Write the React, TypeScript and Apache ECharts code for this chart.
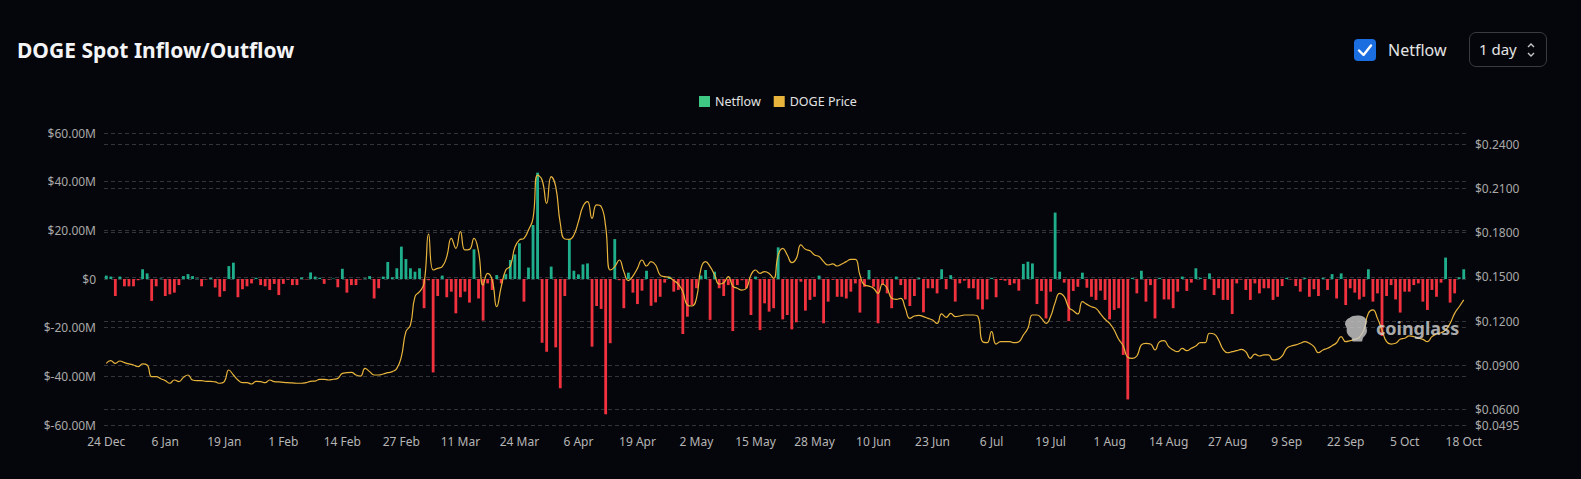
import React, { useEffect, useRef } from "react";
import * as echarts from "echarts";

const START_DATE = Date.UTC(2023, 11, 24);
const DAY_COUNT = 300;
const MONTHS = ["Jan", "Feb", "Mar", "Apr", "May", "Jun", "Jul", "Aug", "Sep", "Oct", "Nov", "Dec"];
const dates: string[] = Array.from({ length: DAY_COUNT }, (_, i) => {
  const d = new Date(START_DATE + i * 86400000);
  return `${d.getUTCDate()} ${MONTHS[d.getUTCMonth()]}`;
});

// Netflow in millions of USD, one per day
const netflowDecJan = [
  1.4, 1, -7, 1, -3, -3, -3, -0.5, 4, 2.3, -9, -3, 0.2, -7, -6.3, -5.6, -2.5, 1.2, 2, 1.2,
  0.2, -3, -0.2, 0.5, -3.5, -7.3, -5, 5.3, 6.7, -7.5, -4.2, -3, -1.8, 0.5, -2.5, -3, -4.5, -2, -6.6,
];
const netflowFebMar = [
  -2, -0.3, -2.5, -2.5, 0.6, -0.2, 2.7, 1, 0.5, -2, -0.2, 0.2, -3.4, 4.2, -5.6, -2.5, -2.5, -0.2, 0.3, 1.2,
  -8, -3.8, 1, 7, 0.7, 4.4, 13.3, 8.2, 4.4, 3, 4.4, -12, -0.5, -38.4, -7, 1.4, -7.5, -5.2, -14.1, -7.5,
  -5.2, -9.7, 12.2, -8, -17.1, -1.8, -4.5, 1.6, -1.8, 2, 7.8, 10.1, 14.7, -9.3, 4.7, 22.2, 43.7, -26.2, -29.9, 5.1,
];
const netflowAprMay = [
  -28.1, -44.9, -7, 16.3, 3.4, 1.9, 6, 6.4, -27.8, -11.1, -12.3, -55.6, -26.4, 16.4, -0.5, -12, 2.6, -5.6, -10.3, -4.8,
  3.4, -11, -9.6, -7.3, -1.5, 1, -5.2, -4.5, -22.6, -15.5, -10.7, -3.8, 1.4, 3.7, -16.8, 3, -3.8, -7, -2.5, -21.4,
  -2.5, -0.5, -3.8, -14.8, 1, -21, -10, -13.4, -12, 13, -16.6, -14.8, -20.7, -17.8, -1.1, -13, -8.6, -7.3, 1.4, -18.2,
  -9.3,
];
const netflowJunJul = [
  -0.3, -7.3, -7.3, -8, -5.2, -1.8, -13.8, -3.2, 3.7, -3.2, -18.2, -2.5, -5.9, -12, 1, -2.5, -8.4, -11.1, -7, 0.5,
  -13.7, -3.8, -3.8, -5.9, 4, -4.2, 1.6, -9.3, -1.8, -0.7, -3.8, -3.8, -8.4, -12.5, -8.4, 0.5, -7.5, -0.4, -0.7, -2.5,
  -1.8, -4.8, 6.2, 7.1, 6.4, -10.3, -4.9, -16.2, -5.2, 27.3, 3, -1.5, -17.3, -4.9, -3.2, 2.6, -3.6, -7.3, -8.6, -4.8,
  -8.6,
];
const netflowAugOct = [
  -16.6, -12.7, -12, -31.2, -49.5, 0.5, -5.9, 3.4, -9.3, -2.5, -16.2, 0.5, -8.4, -8.4, -12, -5.2, 1, -4.9, -1.5, 4.4,
  0.5, -4.5, 2.3, -6.6, -3.8, -8.6, -8.6, -14.4, -1.8, -0.2, -4.5, -8.6, -1.8, -5.9, -3.8, -3.8, -8.6, -7.3, -2.9, 0.5,
  -0.2, -2.9, -5.2, 0.5, -7.3, -4.2, -7, 0.5, -4.5, 2, -8, 2.3, -10.7, -3.8, -5.6, -8.4, -7.3, 4, -9.3, -5.9,
  -23.4, -7, -2.5, -8.4, -13.8, -5.2, -5.2, -2.5, -1.8, -9.3, -12.7, -4.5, -7.3, -1.5, 8.8, -9.7, -5.9, 0.7, 4,
];
const netflow = [...netflowDecJan, ...netflowFebMar, ...netflowAprMay, ...netflowJunJul, ...netflowAugOct];

// DOGE price in USD, one per day
const priceDecFeb = [
  0.0913, 0.0931, 0.0913, 0.0929, 0.0918, 0.0909, 0.0902, 0.0891, 0.0909, 0.0902,
  0.0823, 0.0823, 0.0809, 0.0796, 0.0778, 0.08, 0.0789, 0.0818, 0.0834, 0.08,
  0.0796, 0.0796, 0.0791, 0.0791, 0.0787, 0.0778, 0.0789, 0.0868, 0.0834, 0.08,
  0.0782, 0.0782, 0.0773, 0.0791, 0.0789, 0.0782, 0.08, 0.0789, 0.0787, 0.0784,
  0.0782, 0.078, 0.0778, 0.0778, 0.0782, 0.0791, 0.0793, 0.0805, 0.0805, 0.08,
  0.0805, 0.0811, 0.0845, 0.085, 0.0852, 0.0834, 0.0827, 0.0879, 0.0857, 0.0834,
  0.0834, 0.0841, 0.085, 0.0857, 0.0879, 0.0958, 0.1128, 0.1173, 0.1365, 0.1399,
];
const priceMarMay = [
  0.1456, 0.179, 0.1546, 0.1557, 0.1569, 0.1637, 0.1761, 0.1693, 0.1806, 0.1682,
  0.1686, 0.1761, 0.167, 0.1444, 0.1523, 0.1478, 0.1297, 0.1433, 0.1546, 0.1573,
  0.17, 0.175, 0.1761, 0.1817, 0.1896, 0.219, 0.2156, 0.1998, 0.2179, 0.2111,
  0.1863, 0.1756, 0.1754, 0.1783, 0.1874, 0.1976, 0.2009, 0.1896, 0.1987, 0.1976,
  0.184, 0.1546, 0.1569, 0.1614, 0.1535, 0.1474, 0.1505, 0.1557, 0.1614, 0.1573,
  0.1603, 0.158, 0.1512, 0.1501, 0.1496, 0.1474, 0.1451, 0.1399, 0.1309, 0.1302,
  0.1354, 0.1557, 0.1603, 0.1569, 0.1512, 0.1451, 0.146, 0.1501, 0.1437, 0.1422,
  0.141, 0.1422, 0.1512, 0.1546, 0.1523, 0.1535,
];
const priceMayJul = [
  0.1523, 0.1489, 0.1648, 0.1693, 0.1648, 0.1596, 0.1625, 0.1716, 0.1686,
  0.1677, 0.1648, 0.1637, 0.1603, 0.158, 0.1587, 0.1573, 0.1587, 0.1603, 0.1618,
  0.1618, 0.1512, 0.1444, 0.1437, 0.1422, 0.1388, 0.1451, 0.1422, 0.1354, 0.1347,
  0.1354, 0.1286, 0.1218, 0.1234, 0.1239, 0.123, 0.1218, 0.1207, 0.1184, 0.1248,
  0.1225, 0.1252, 0.123, 0.1234, 0.1241, 0.1241, 0.1241, 0.123, 0.106, 0.1053,
  0.1128, 0.1044, 0.106, 0.106, 0.106, 0.1053, 0.106, 0.1105, 0.1151, 0.1241,
  0.1241, 0.1218, 0.1184, 0.123, 0.1325, 0.1388, 0.1365, 0.1293, 0.127, 0.1248,
  0.1331, 0.1313, 0.1297, 0.1286, 0.1248, 0.1212,
];
const priceJulOct = [
  0.1184, 0.1139, 0.1076, 0.1031, 0.0954, 0.0947, 0.0963, 0.1038, 0.1049, 0.1044,
  0.1004, 0.106, 0.1067, 0.1026, 0.1004, 0.0992, 0.1015, 0.0999, 0.1015, 0.1031,
  0.1053, 0.1053, 0.1117, 0.1112, 0.1071, 0.1008, 0.0985, 0.0992, 0.0999, 0.1008,
  0.0992, 0.0947, 0.0976, 0.0963, 0.097, 0.097, 0.0936, 0.094, 0.0963, 0.1015,
  0.1031, 0.1038, 0.1049, 0.106, 0.1049, 0.1026, 0.0985, 0.1004, 0.1015, 0.1033,
  0.1053, 0.1094, 0.106, 0.1067, 0.1076, 0.1089, 0.1139, 0.1252, 0.1275, 0.1218,
  0.1139, 0.106, 0.1044, 0.1049, 0.1076, 0.1083, 0.1099, 0.1094, 0.1083, 0.1076,
  0.106, 0.1094, 0.1112, 0.1121, 0.1139, 0.1184, 0.1252, 0.1297, 0.1343,
];
const price = [...priceDecFeb, ...priceMarMay, ...priceMayJul, ...priceJulOct];

const leftTicks = { min: -60, max: 60, interval: 20 };
const rightRange = { min: 0.0495, max: 0.2475 };

const BG = "#05060b";
const GREEN_BAR = "#1fae8c";
const RED_BAR = "#f0323f";
const LEGEND_GREEN = "#3ec883";
const YELLOW = "#e8b43c";
const FONT = "'Noto Sans', 'Open Sans', sans-serif";

echarts.graphic.registerShape(
  "cgLogo",
  echarts.graphic.extendPath(
    "M6 3 C9 0 17 0 21 2 C24 4 25 8 23 11 L24 15 C25 19 22 22 20 24 L19 28 L9 28 L8 24 C4 22 2 18 3 14 L1 10 C1 7 3 4 6 3 Z",
    {}
  )
);

function Chart() {
  const ref = useRef<HTMLDivElement>(null);
  useEffect(() => {
    if (!ref.current) return;
    const chart = echarts.init(ref.current, undefined, { renderer: "svg" });
    chart.setOption({
      animation: false,
      backgroundColor: "transparent",
      textStyle: { fontFamily: FONT },
      legend: {
        top: 90,
        left: 694,
        itemWidth: 11,
        itemHeight: 11,
        itemGap: 13,
        icon: "rect",
        textStyle: { color: "#e2e2e2", fontSize: 12.5, fontFamily: FONT },
        data: [
          { name: "Netflow", itemStyle: { color: LEGEND_GREEN } },
          { name: "DOGE Price", itemStyle: { color: YELLOW } },
        ],
      },
      grid: { left: 104, right: 115, top: 133, bottom: 54, containLabel: false, outerBoundsMode: "none" },
      xAxis: {
        type: "category",
        data: dates,
        boundaryGap: true,
        axisLine: { show: false },
        axisTick: { show: false },
        splitLine: { show: false },
        axisLabel: { interval: 12, color: "#b5b5b5", fontSize: 12, margin: 10, fontFamily: FONT },
      },
      yAxis: [
        {
          type: "value",
          min: leftTicks.min,
          max: leftTicks.max,
          interval: leftTicks.interval,
          axisLine: { show: false },
          axisTick: { show: false },
          splitLine: { show: true, lineStyle: { color: "#34353b", type: [4, 3], width: 1 } },
          axisLabel: {
            color: "#a8a8a8",
            fontSize: 12,
            margin: 8,
            fontFamily: FONT,
            formatter: (v: number) => (v === 0 ? "$0" : `$${v.toFixed(2)}M`),
          },
        },
        {
          type: "value",
          min: rightRange.min,
          max: rightRange.max,
          splitNumber: 7,
          axisLine: { show: false },
          axisTick: { show: false },
          splitLine: { show: true, lineStyle: { color: "#34353b", type: [4, 3], width: 1 } },
          axisLabel: {
            color: "#a8a8a8",
            fontSize: 12,
            margin: 9,
            showMaxLabel: false,
            fontFamily: FONT,
            formatter: (v: number) => `$${v.toFixed(4)}`,
          },
        },
      ],
      series: [
        {
          name: "Netflow",
          type: "bar",
          yAxisIndex: 0,
          barWidth: "62%",
          itemStyle: { color: LEGEND_GREEN },
          data: netflow.map((v) => ({ value: v, itemStyle: { color: v >= 0 ? GREEN_BAR : RED_BAR } })),
        },
        {
          name: "DOGE Price",
          type: "line",
          yAxisIndex: 1,
          smooth: true,
          showSymbol: false,
          symbol: "none",
          itemStyle: { color: YELLOW },
          lineStyle: { color: YELLOW, width: 1.2 },
          data: price,
          z: 5,
        },
      ],
      graphic: [
        {
          type: "cgLogo",
          x: 1344,
          y: 315,
          scaleX: 0.95,
          scaleY: 0.95,
          z: 10,
          style: { fill: "rgba(205,205,205,0.8)" },
        },
        {
          type: "text",
          x: 1376,
          y: 328,
          z: 10,
          style: {
            text: "coinglass",
            fill: "rgba(215,215,215,0.8)",
            font: `bold 18px ${FONT}`,
            verticalAlign: "middle",
          },
        },
      ],
    });
    return () => chart.dispose();
  }, []);
  return <div ref={ref} style={{ position: "absolute", left: 0, top: 0, width: 1581, height: 479 }} />;
}

export default function App() {
  useEffect(() => {
    document.body.style.margin = "0";
    document.body.style.background = BG;
  }, []);
  return (
    <div
      style={{
        position: "fixed",
        left: 0,
        top: 0,
        width: 1581,
        height: 479,
        background: BG,
        fontFamily: FONT,
        overflow: "hidden",
      }}
    >
      <Chart />
      <div
        style={{
          position: "absolute",
          left: 17,
          top: 36,
          fontSize: 21,
          lineHeight: "28px",
          fontWeight: 700,
          color: "#f4f4f6",
        }}
      >
        DOGE Spot Inflow/Outflow
      </div>
      <div
        style={{
          position: "absolute",
          left: 1354,
          top: 39,
          width: 22,
          height: 22,
          borderRadius: 4,
          background: "#1b6ee0",
        }}
      >
        <svg width="22" height="22" viewBox="0 0 22 22">
          <polyline points="5,11.5 9.5,16 17,6.5" fill="none" stroke="#ffffff" strokeWidth="2.4" strokeLinecap="round" strokeLinejoin="round" />
        </svg>
      </div>
      <div
        style={{
          position: "absolute",
          left: 1388,
          top: 38,
          fontSize: 16,
          lineHeight: "24px",
          color: "#e4e4e4",
        }}
      >
        Netflow
      </div>
      <div
        style={{
          position: "absolute",
          left: 1469,
          top: 32,
          width: 76,
          height: 33,
          border: "1px solid #3a3b41",
          borderRadius: 7,
          color: "#e4e4e4",
          fontSize: 15,
        }}
      >
        <span style={{ position: "absolute", left: 9, top: 6, lineHeight: "20px" }}>1 day</span>
        <svg style={{ position: "absolute", left: 55, top: 8 }} width="12" height="18" viewBox="0 0 12 18">
          <polyline points="3,6 6,3 9,6" fill="none" stroke="#c8c8c8" strokeWidth="1.4" />
          <polyline points="3,12 6,15 9,12" fill="none" stroke="#c8c8c8" strokeWidth="1.4" />
        </svg>
      </div>
    </div>
  );
}
